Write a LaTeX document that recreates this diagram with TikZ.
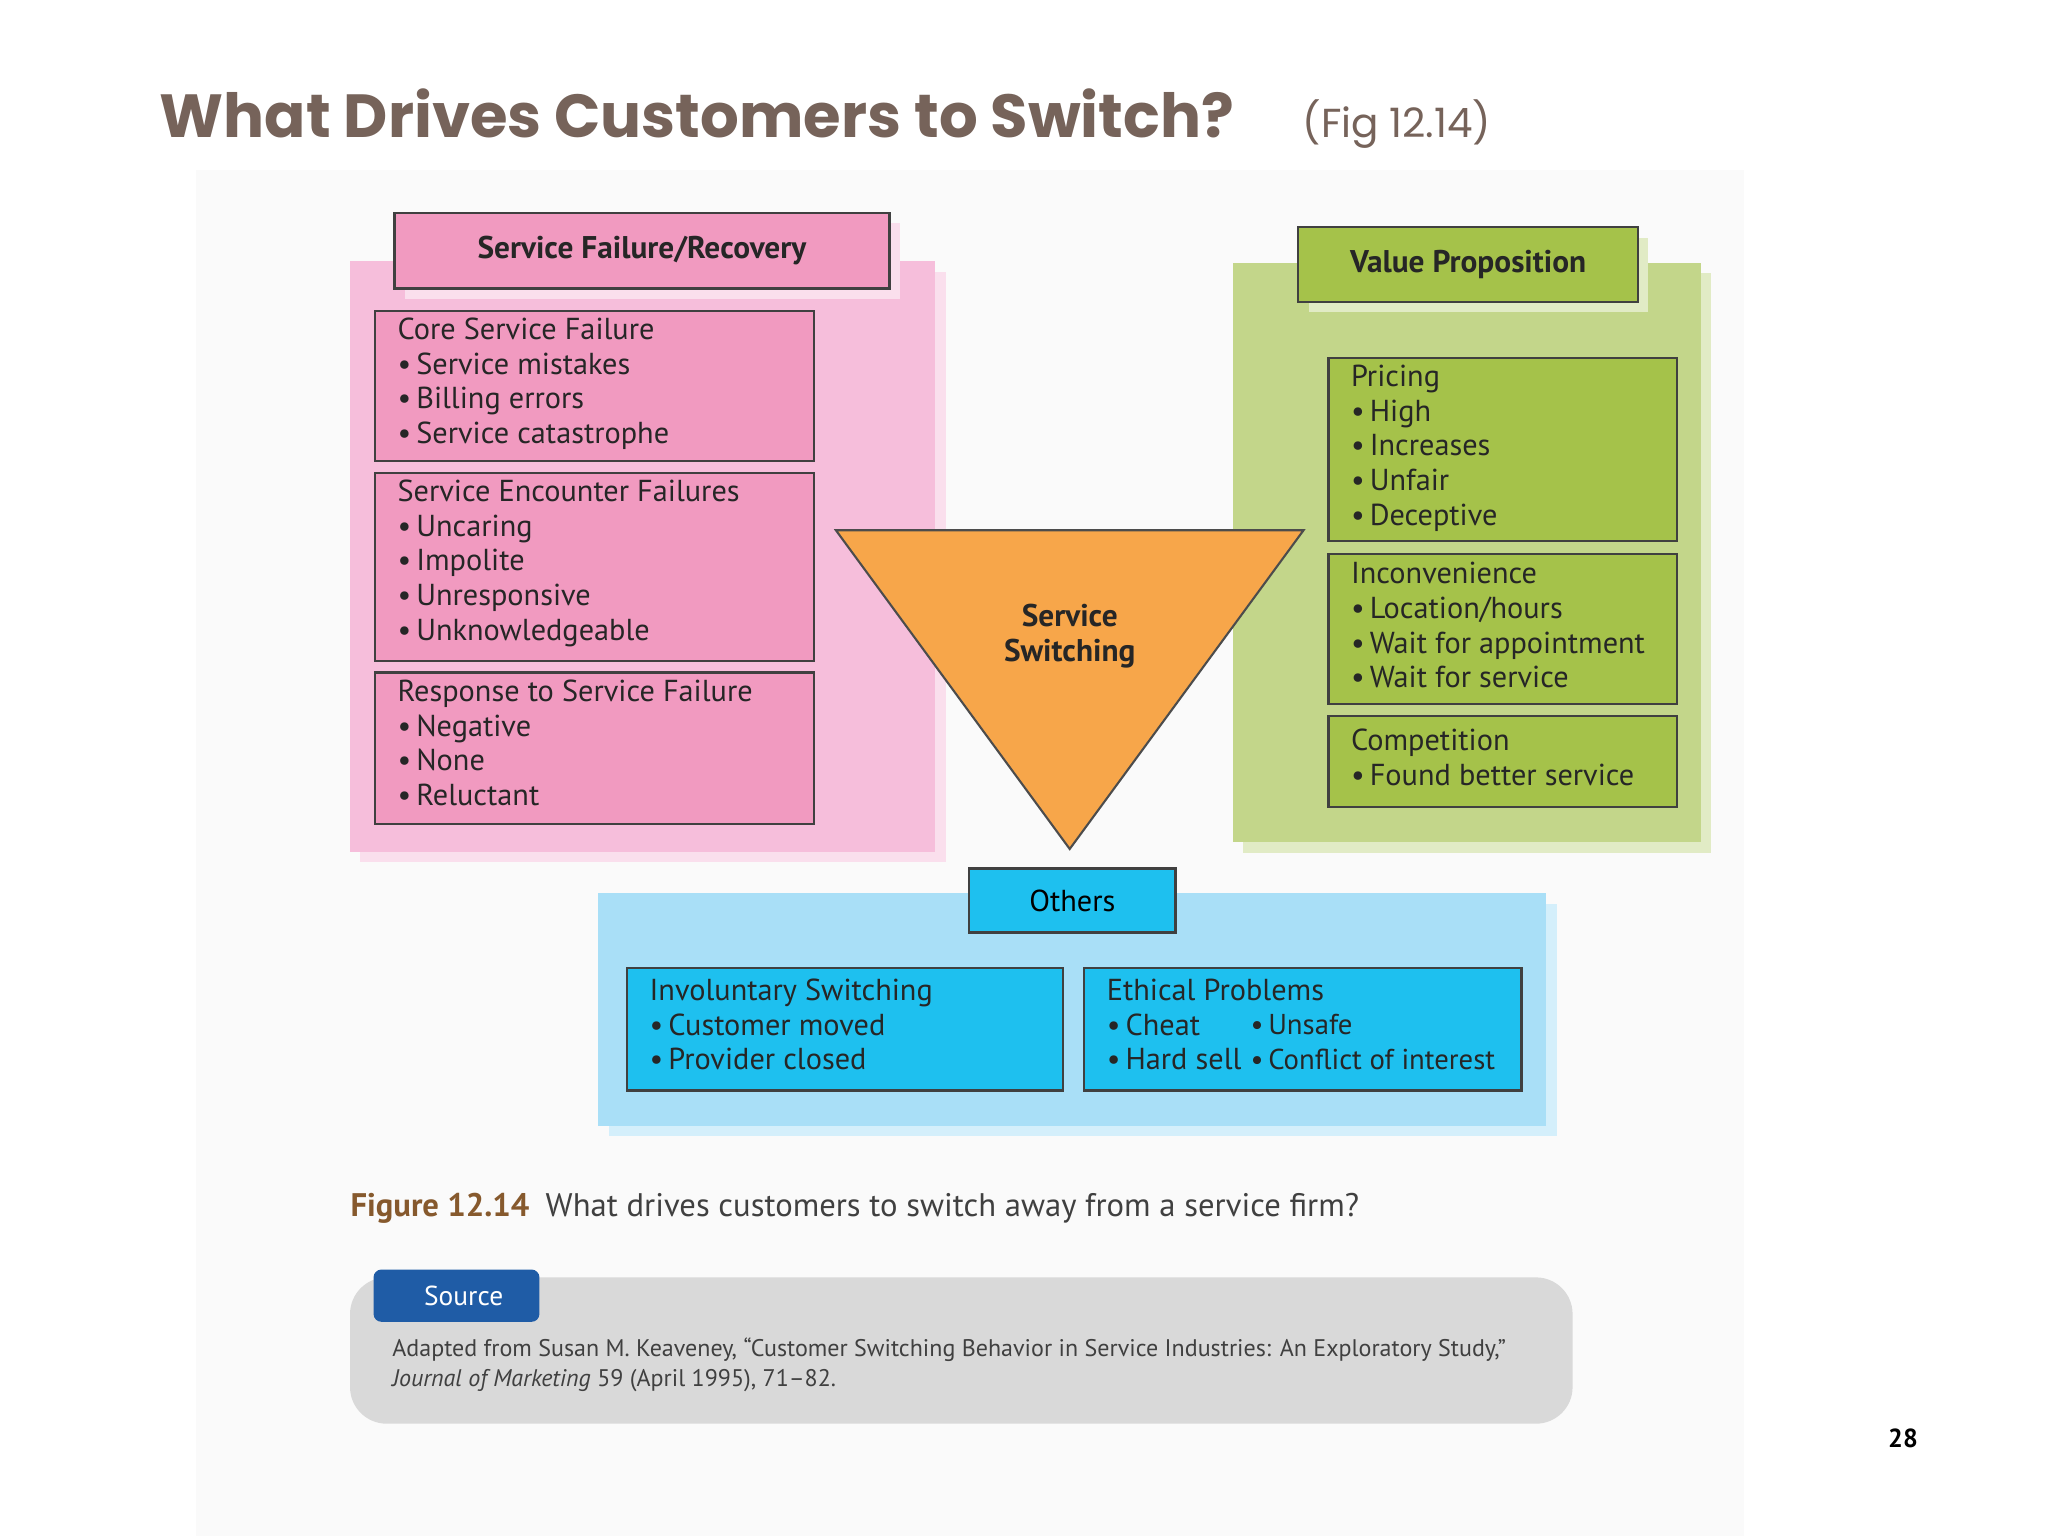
\documentclass[tikz,border=0pt]{standalone}
\usepackage{fontspec}
\setmainfont{PT Sans}
\newfontfamily\ttl{Poppins}
\definecolor{pinkbg}{HTML}{F6BEDB}
\definecolor{pinkbx}{HTML}{F19AC0}
\definecolor{grnbg}{HTML}{C3D68A}
\definecolor{grnbx}{HTML}{A5C24A}
\definecolor{blubg}{HTML}{A9DFF7}
\definecolor{blubx}{HTML}{1EC0EF}
\definecolor{orng}{HTML}{F7A64A}
\definecolor{ttlc}{HTML}{76635A}
\definecolor{srcb}{HTML}{1F5CA6}
\begin{document}
\begin{tikzpicture}[x=0.5pt,y=-0.5pt,
 bx/.style={draw=black!75,line width=0.9pt},
 tx/.style={anchor=north west,align=left,inner sep=0,font=\fontsize{11.6}{13.3}\selectfont,text=black!85},
 hd/.style={font=\bfseries\fontsize{12}{13.3}\selectfont,text=black!85}]
\useasboundingbox (0,0) rectangle (1568,1176);
\fill[white] (0,0) rectangle (1568,1176);
\fill[black!2] (150,130) rectangle (1335,1176);
% title
\node[anchor=base west,inner sep=0,text=ttlc,font=\ttl\bfseries\fontsize{23.3}{28}\selectfont] (title) at (122,105) {What Drives Customers to Switch?};
\node[anchor=base west,inner sep=0,text=ttlc,font=\ttl\fontsize{15.5}{18}\selectfont] (fig) at (997,105) {(Fig 12.14)};
% pink
\fill[pinkbg!50] (276,208) rectangle (724,660);
\fill[pinkbg] (268,200) rectangle (716,652);
\fill[pinkbg!50] (310,171) rectangle (689,229);
\node[bx,fill=pinkbx,minimum width=189.5pt,minimum height=29pt,hd] (sfr) at (491.5,192) {Service Failure/Recovery};
\node[bx,fill=pinkbx,minimum width=168pt,minimum height=57.5pt] (p1) at (455,295.5) {};
\node[bx,fill=pinkbx,minimum width=168pt,minimum height=72pt] (p2) at (455,434) {};
\node[bx,fill=pinkbx,minimum width=168pt,minimum height=58pt] (p3) at (455,573) {};
\node[tx] (t1) at (304,243) {Core Service Failure\\\textbullet\,Service mistakes\\\textbullet\,Billing errors\\\textbullet\,Service catastrophe};
\node[tx] (t2) at (304,367) {Service Encounter Failures\\\textbullet\,Uncaring\\\textbullet\,Impolite\\\textbullet\,Unresponsive\\\textbullet\,Unknowledgeable};
\node[tx] (t3) at (304,520) {Response to Service Failure\\\textbullet\,Negative\\\textbullet\,None\\\textbullet\,Reluctant};
% green
\fill[grnbg!50] (952,209) rectangle (1310,653);
\fill[grnbg] (944,201) rectangle (1302,645);
\fill[grnbg!50] (1002,182) rectangle (1262,239);
\node[bx,fill=grnbx,minimum width=130pt,minimum height=28.5pt,hd] (vp) at (1124,202.5) {Value Proposition};
\node[bx,fill=grnbx,minimum width=133.5pt,minimum height=70pt] (g1) at (1150.5,344) {};
\node[bx,fill=grnbx,minimum width=133.5pt,minimum height=57.5pt] (g2) at (1150.5,481.5) {};
\node[bx,fill=grnbx,minimum width=133.5pt,minimum height=35pt] (g3) at (1150.5,583) {};
\node[tx] (u1) at (1034,279) {Pricing\\\textbullet\,High\\\textbullet\,Increases\\\textbullet\,Unfair\\\textbullet\,Deceptive};
\node[tx] (u2) at (1034,430) {Inconvenience\\\textbullet\,Location/hours\\\textbullet\,Wait for appointment\\\textbullet\,Wait for service};
\node[tx] (u3) at (1034,558) {Competition\\\textbullet\,Found better service};
% triangle
\draw[fill=orng,draw=black!70,line width=0.8pt] (640,406) -- (998,406) -- (819,650) -- cycle;
\node[hd,align=center] (ss) at (819,487) {Service\\Switching};
% blue
\fill[blubg!50] (466,692) rectangle (1192,870);
\fill[blubg] (458,684) rectangle (1184,862);
\node[bx,fill=blubx,minimum width=79pt,minimum height=24.5pt,font=\fontsize{11.6}{13.3}\selectfont] (oth) at (821,689.5) {Others};
\node[bx,fill=blubx,minimum width=167pt,minimum height=47pt] (b1) at (647,788) {};
\node[bx,fill=blubx,minimum width=167.5pt,minimum height=47pt] (b2) at (997.5,788) {};
\node[tx] (v1) at (497,749) {Involuntary Switching\\\textbullet\,Customer moved\\\textbullet\,Provider closed};
\node[tx] (v2) at (847,749) {Ethical Problems\\\textbullet\,Cheat\\\textbullet\,Hard sell};
\node[tx,font=\fontsize{11}{13.3}\selectfont] (v3) at (957,776) {\textbullet\,Unsafe\\\textbullet\,Conflict of interest};
% caption
\node[anchor=base west,inner sep=0,font=\fontsize{12.5}{15}\selectfont] (cap) at (268,931) {\textbf{\textcolor{brown!70!black}{Figure 12.14}}\enspace\textcolor{black!75}{What drives customers to switch away from a service firm?}};
% source
\fill[black!15,rounded corners=14pt] (268,978) rectangle (1204,1090);
\fill[srcb,rounded corners=3pt] (286,972) rectangle (413,1012);
\node[text=white,font=\fontsize{10.5}{12}\selectfont] (src) at (355,992) {S\textsc{ource}};
\node[tx,font=\fontsize{9.2}{11.5}\selectfont,text=black!75] (ref) at (300,1024) {Adapted from Susan M. Keaveney, ``Customer Switching Behavior in Service Industries: An Exploratory Study,''\\\textit{Journal of Marketing} 59 (April 1995), 71--82.};
\node[font=\bfseries\fontsize{10}{12}\selectfont] (pg) at (1457,1101) {28};
\end{tikzpicture}
\end{document}
